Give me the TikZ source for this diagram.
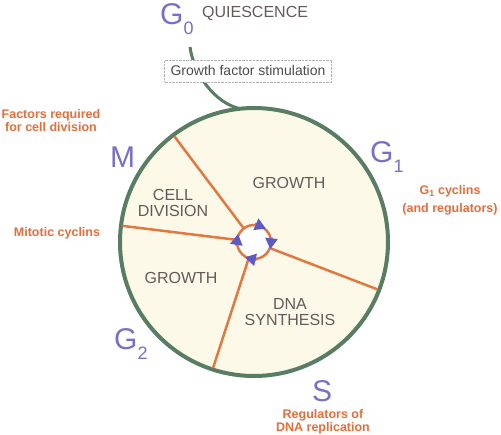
\documentclass[tikz,border=0pt]{standalone}
\usepackage{fontspec}
\setmainfont{Liberation Sans}
\usetikzlibrary{arrows.meta}
\definecolor{ringgreen}{RGB}{88,125,98}
\definecolor{cream}{RGB}{253,249,232}
\definecolor{spokeorange}{RGB}{226,120,64}
\definecolor{phasepurple}{RGB}{120,112,200}
\definecolor{labelorange}{RGB}{226,110,60}
\definecolor{labelgray}{RGB}{100,90,90}
\definecolor{arrowblue}{RGB}{95,90,195}
\newcommand{\phasesub}[2]{#1\raisebox{-0.33em}{\fontsize{18}{18}\selectfont #2}}

\begin{document}
\begin{tikzpicture}[x=1pt, y=-1pt,
    phaselabel/.style={text=phasepurple, font=\fontsize{30}{30}\selectfont, inner sep=0pt, anchor=base west},
    factorlabel/.style={text=labelorange, font=\bfseries\fontsize{12.5}{13}\selectfont, align=center, inner sep=0pt},
    stagelabel/.style={text=labelgray, font=\fontsize{16}{16.5}\selectfont, align=center, inner sep=0pt},
    spoke/.style={draw=spokeorange, line width=2.5pt},
    turn/.style={spoke, -{Triangle[length=11pt, width=12pt, color=arrowblue]}}]

    \useasboundingbox (0,0) rectangle (501,435);

    % Cell cycle ring
    \node[circle, minimum size=268pt, draw=ringgreen, fill=cream, line width=4pt, outer sep=0pt] (cell) at (254,242) {};

    % Stalk up to quiescence
    \coordinate (stalk) at (190,47);
    \draw[ringgreen, line width=3pt] (stalk) .. controls (194,75) and (215,103) .. (cell.96);
    \node[draw=gray!60, densely dotted, fill=white, minimum width=167pt, minimum height=22pt,
        font=\fontsize{14}{14}\selectfont, text=black!70] (gfs) at (248,71) {Growth factor stimulation};

    % Hub and spokes
    \node[circle, minimum size=34pt, spoke, fill=white] (hub) at (cell.center) {};
    \foreach \a in {127.6, 173.5, 252.6, 339.5}
        \draw[spoke, shorten >=1.5pt] (hub) -- (cell.\a);

    % Clockwise arrows on the hub
    \foreach \m in {66, -6, -103, 171}
        \draw[turn] (hub.center) ++(\m:17pt) ++(\m+90:6.5pt) -- ++(\m-90:12pt);

    % Phase letters
    \node[phaselabel] (G0) at (160,25) {\phasesub{G}{0}};
    \node[text=labelgray, font=\fontsize{16}{16}\selectfont, anchor=base west, inner sep=0pt] (Q0) at (202,18) {QUIESCENCE};
    \node[phaselabel] (M) at (110,168) {M};
    \node[phaselabel] (G1) at (370,163) {\phasesub{G}{1}};
    \node[phaselabel] (G2) at (114,350) {\phasesub{G}{2}};
    \node[phaselabel] (S) at (312,402) {S};

    % Stages inside the ring
    \node[stagelabel] (grow1) at (289,183) {GROWTH};
    \node[stagelabel] (div) at (173,203) {CELL\\DIVISION};
    \node[stagelabel] (grow2) at (181,278) {GROWTH};
    \node[stagelabel] (dna) at (290,312) {DNA\\SYNTHESIS};

    % Factors
    \node[factorlabel] (fM) at (51,121) {Factors required\\for cell division};
    \node[factorlabel] (fmit) at (57,233) {Mitotic cyclins};
    \node[factorlabel] (fG1) at (450,200) {G\textsubscript{1} cyclins\\[5pt](and regulators)};
    \node[factorlabel] (fS) at (323,422) {Regulators of\\DNA replication};
\end{tikzpicture}
\end{document}
